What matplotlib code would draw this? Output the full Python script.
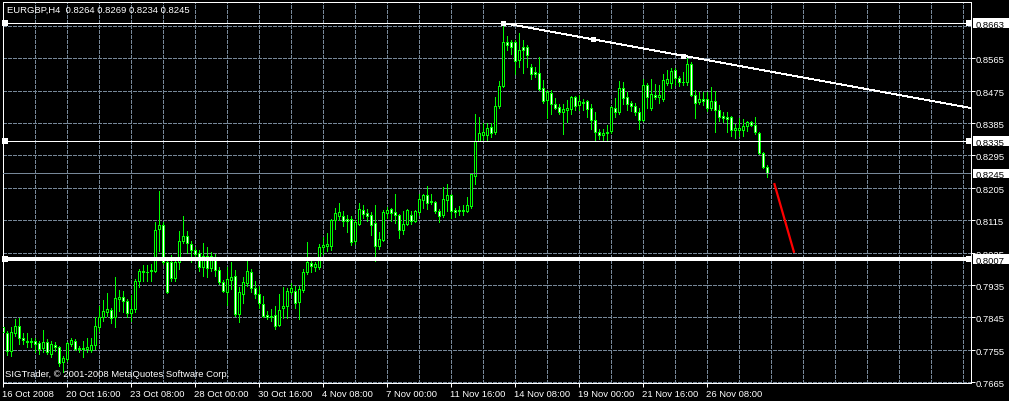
import matplotlib
matplotlib.use('Agg')
import matplotlib.pyplot as plt
import numpy as np
from matplotlib.patches import Rectangle
import matplotlib.transforms as mtransforms

# ---------------- data (EURGBP H4 candles) ----------------
opens = [.7817,.7800,.7752,.7802,.7822,.7787,.7778,.7776,.7780,.7773,
         .7759,.7776,.7743,.7769,.7763,.7720,.7730,.7772,.7780,.7757,
         .7759,.7756,.7755,.7769,.7819,.7847,.7860,.7865,.7845,.7897,
         .7900,.7889,.7858,.7867,.7947,.7973,.7970,.7973,.7974,.8089,
         .8101,.7998,.7998,.7953,.7998,.8058,.8070,.8048,.8031,.8025,
         .7984,.8014,.7981,.8011,.7977,.7942,.7916,.7949,.7959,.7854,
         .7910,.7940,.7972,.7925,.7909,.7881,.7851,.7846,.7851,.7823,
         .7870,.7875,.7916,.7918,.7888,.7921,.7972,.7996,.7986,.7986,
         .8041,.8044,.8044,.8115,.8127,.8127,.8118,.8118,.8058,.8104,
         .8143,.8135,.8130,.8106,.8044,.8061,.8135,.8146,.8137,.8129,
         .8088,.8104,.8129,.8112,.8138,.8172,.8185,.8166,.8166,.8139,
         .8129,.8172,.8185,.8143,.8139,.8143,.8141,.8155,.8239,.8335,
         .8353,.8353,.8374,.8360,.8431,.8487,.8610,.8610,.8610,.8559,
         .8596,.8596,.8542,.8527,.8524,.8482,.8448,.8468,.8437,.8429,
         .8416,.8420,.8425,.8457,.8434,.8443,.8446,.8427,.8392,.8360,
         .8351,.8358,.8362,.8428,.8415,.8482,.8457,.8440,.8433,.8415,
         .8394,.8491,.8428,.8464,.8456,.8453,.8495,.8496,.8532,.8509,
         .8498,.8500,.8549,.8463,.8444,.8452,.8452,.8428,.8446,.8421,
         .8405,.8401,.8401,.8366,.8366,.8366,.8376,.8387,.8379,.8357,
         .8303,.8264]
highs = [.7863,.7808,.7819,.7840,.7842,.7801,.7801,.7787,.7787,.7780,
         .7809,.7784,.7780,.7777,.7766,.7737,.7777,.7787,.7784,.7766,
         .7780,.7786,.7787,.7845,.7877,.7893,.7913,.7872,.7956,.7921,
         .7917,.7897,.7906,.7952,.7979,.7990,.7991,.7993,.8109,.8195,
         .8109,.8007,.8018,.8011,.8086,.8126,.8086,.8058,.8039,.8032,
         .8051,.8039,.8027,.8021,.7986,.7949,.7984,.7998,.7977,.7928,
         .7956,.8011,.7979,.7946,.7933,.7905,.7863,.7868,.7875,.7910,
         .7928,.7925,.7940,.7933,.7933,.7979,.8055,.8007,.7998,.8049,
         .8069,.8078,.8118,.8149,.8164,.8139,.8130,.8127,.8115,.8164,
         .8157,.8146,.8137,.8157,.8081,.8143,.8152,.8150,.8189,.8132,
         .8141,.8146,.8141,.8143,.8189,.8188,.8211,.8188,.8169,.8146,
         .8206,.8215,.8189,.8150,.8155,.8158,.8178,.8245,.8411,.8403,
         .8385,.8385,.8385,.8457,.8501,.8663,.8626,.8615,.8617,.8635,
         .8615,.8601,.8548,.8541,.8568,.8504,.8478,.8476,.8454,.8437,
         .8439,.8448,.8459,.8459,.8462,.8453,.8448,.8437,.8416,.8369,
         .8367,.8380,.8431,.8455,.8502,.8499,.8471,.8447,.8442,.8426,
         .8507,.8496,.8507,.8493,.8491,.8521,.8533,.8537,.8537,.8516,
         .8528,.8572,.8554,.8478,.8472,.8472,.8472,.8484,.8475,.8435,
         .8416,.8415,.8405,.8382,.8398,.8396,.8391,.8391,.8401,.8359,
         .8305,.8269]
lows = [.7780,.7741,.7738,.7794,.7770,.7770,.7761,.7761,.7747,.7743,
        .7747,.7743,.7735,.7752,.7710,.7692,.7724,.7766,.7754,.7747,
        .7735,.7747,.7747,.7757,.7808,.7835,.7849,.7828,.7817,.7863,
        .7859,.7847,.7834,.7859,.7928,.7947,.7947,.7947,.7970,.8030,
        .7993,.7912,.7947,.7947,.7979,.8051,.8025,.7998,.8007,.7974,
        .7961,.7956,.7974,.7961,.7937,.7914,.7879,.7923,.7849,.7833,
        .7885,.7933,.7914,.7899,.7872,.7845,.7840,.7835,.7812,.7821,
        .7842,.7842,.7910,.7872,.7840,.7916,.7965,.7972,.7974,.7979,
        .8021,.8028,.8032,.8090,.8115,.8100,.8081,.8047,.8049,.8101,
        .8121,.8113,.8075,.8000,.8035,.8058,.8121,.8113,.8106,.8065,
        .8076,.8102,.8104,.8110,.8130,.8150,.8146,.8160,.8136,.8111,
        .8123,.8141,.8121,.8125,.8130,.8130,.8137,.8150,.8216,.8335,
        .8339,.8339,.8346,.8355,.8428,.8485,.8589,.8578,.8522,.8542,
        .8524,.8541,.8508,.8513,.8476,.8440,.8400,.8411,.8425,.8411,
        .8355,.8388,.8411,.8420,.8420,.8422,.8402,.8369,.8339,.8341,
        .8337,.8339,.8357,.8403,.8411,.8437,.8422,.8419,.8407,.8368,
        .8391,.8428,.8422,.8453,.8442,.8447,.8491,.8481,.8491,.8489,
        .8491,.8491,.8461,.8398,.8438,.8435,.8419,.8421,.8361,.8391,
        .8389,.8359,.8348,.8342,.8348,.8348,.8364,.8376,.8354,.8299,
        .8259,.8234]
closes = [.7803,.7752,.7803,.7822,.7787,.7783,.7776,.7780,.7772,.7758,
          .7776,.7747,.7770,.7763,.7717,.7731,.7773,.7782,.7756,.7759,
          .7756,.7761,.7768,.7821,.7847,.7863,.7868,.7842,.7898,.7902,
          .7889,.7858,.7867,.7947,.7973,.7970,.7972,.7976,.8088,.8101,
          .7998,.7916,.7953,.7998,.8058,.8070,.8051,.8033,.8022,.7986,
          .8016,.7981,.8014,.7976,.7944,.7917,.7951,.7957,.7854,.7914,
          .7942,.7974,.7925,.7910,.7884,.7849,.7845,.7849,.7821,.7866,
          .7877,.7917,.7925,.7885,.7923,.7972,.7998,.7988,.7993,.8039,
          .8046,.8049,.8115,.8134,.8137,.8113,.8112,.8055,.8110,.8145,
          .8132,.8127,.8102,.8044,.8062,.8137,.8143,.8135,.8129,.8088,
          .8104,.8143,.8113,.8141,.8174,.8185,.8164,.8169,.8141,.8127,
          .8174,.8185,.8141,.8137,.8142,.8139,.8157,.8243,.8335,.8357,
          .8360,.8371,.8357,.8431,.8487,.8610,.8601,.8596,.8556,.8587,
          .8589,.8573,.8520,.8520,.8480,.8446,.8471,.8437,.8428,.8416,
          .8423,.8427,.8457,.8431,.8446,.8442,.8425,.8392,.8359,.8353,
          .8357,.8360,.8429,.8415,.8482,.8454,.8439,.8431,.8415,.8394,
          .8491,.8456,.8466,.8458,.8463,.8505,.8507,.8530,.8509,.8498,
          .8500,.8549,.8463,.8442,.8452,.8446,.8428,.8446,.8422,.8403,
          .8398,.8396,.8366,.8370,.8372,.8377,.8387,.8379,.8359,.8303,
          .8262,.8245]

date_tick_bars = [0, 16, 32, 48, 64, 80, 96, 112, 128, 144, 160, 176]
date_labels = ["16 Oct 2008", "20 Oct 16:00", "23 Oct 08:00", "28 Oct 00:00",
               "30 Oct 16:00", "4 Nov 08:00", "7 Nov 00:00", "11 Nov 16:00",
               "14 Nov 08:00", "19 Nov 00:00", "21 Nov 16:00", "26 Nov 08:00"]
grid_prices = [0.8655, 0.8565, 0.8475, 0.8385, 0.8295, 0.8205, 0.8115,
               0.8025, 0.7935, 0.7845, 0.7755, 0.7665]
label_prices = [0.8565, 0.8475, 0.8385, 0.8295, 0.8205, 0.8115,
                0.8025, 0.7935, 0.7845, 0.7755, 0.7665]
label_texts = ["0.8565", "0.8475", "0.8385", "0.8295", "0.8205",
               "0.8115", "0.8025", "0.7935", "0.7845", "0.7755", "0.7665"]
hlines_white = [0.8663, 0.8335, 0.8007]
hline_widths = [0.72, 0.72, 1.5]
bid_price = 0.8245
trend_bars = [125, 170]
trend_prices = [0.8663, 0.8572]
red_bars = [192.7, 197.7]
red_prices = [0.8218, 0.8024]
header = "EURGBP,H4  0.8264 0.8269 0.8234 0.8245"
footer = "SIGTrader, \u00a9 2001-2008 MetaQuotes Software Corp."

# ---------------- styling ----------------
LIME = '#00ff00'
GRID = '#778899'
FONT = 'Liberation Sans'
PX = 0.72  # one pixel in points at 100 dpi

W, H = 1009, 402
fig = plt.figure(figsize=(W / 100, H / 100), dpi=100, facecolor='black')
L_PX, R_PX, T_PX, B_PX = 2.5, 971.0, 2.5, 384.0
ax = fig.add_axes([L_PX / W, 1 - B_PX / H, (R_PX - L_PX) / W, (B_PX - T_PX) / H])
ax.set_facecolor('black')
ax.set_xlim(-0.2, 241.9)
ax.set_ylim(0.76622, 0.87228)

for s in ax.spines.values():
    s.set_color('white')
    s.set_linewidth(PX)

# grid
for k in range(8, 241, 8):
    ax.axvline(k, color=GRID, lw=PX, ls=(0, (3, 2)), zorder=1, antialiased=False)
for p in grid_prices:
    ax.axhline(p, color=GRID, lw=PX, ls=(0, (3, 2)), zorder=1, antialiased=False)

# candles
idx = np.arange(len(opens))
o = np.array(opens); c = np.array(closes); h = np.array(highs); l = np.array(lows)
ax.vlines(idx, l, h, color=LIME, lw=PX, zorder=2, antialiased=False)
fills = ['black' if cc > oo else 'white' for oo, cc in zip(o, c)]
ax.bar(idx, np.abs(c - o), bottom=np.minimum(o, c), width=0.5, color=fills,
       edgecolor=LIME, linewidth=PX, zorder=3, antialiased=False)

# horizontal lines
for p, lw in zip(hlines_white, hline_widths):
    ax.axhline(p, color='white', lw=lw, zorder=5, antialiased=False)
ax.axhline(bid_price, color=GRID, lw=PX, zorder=5, antialiased=False)

# trend line (ray to the right)
x_end = ax.get_xlim()[1]
slope = (trend_prices[1] - trend_prices[0]) / (trend_bars[1] - trend_bars[0])
ax.plot([trend_bars[0], x_end], [trend_prices[0], trend_prices[0] + slope * (x_end - trend_bars[0])],
        color='white', lw=0.6, zorder=5, antialiased=False)
mid_bar = (trend_bars[0] + trend_bars[1]) / 2
ax.plot([trend_bars[0], mid_bar, trend_bars[1]],
        [trend_prices[0], (trend_prices[0] + trend_prices[1]) / 2, trend_prices[1]],
        ls='none', marker='s', ms=3.6, color='white', mew=0, zorder=6)

# squares on horizontal lines
for p in hlines_white:
    ax.plot([0.5, 241.3], [p, p], ls='none', marker='s', ms=3.8, color='white',
            mew=0, zorder=6, clip_on=False)

# red line
ax.plot(red_bars, red_prices, color='red', lw=1.6, zorder=5, solid_capstyle='butt')

# axes ticks
ax.set_xticks(date_tick_bars)
ax.set_xticklabels([])
ax.tick_params(axis='x', direction='out', length=3, width=PX, color='white')
ax.set_yticks(label_prices)
ax.set_yticklabels([])
ax.tick_params(axis='y', left=False, right=True, direction='out', length=3,
               width=PX, color='white')

# date labels
xform = mtransforms.blended_transform_factory(ax.transData, fig.transFigure)
for b, lab in zip(date_tick_bars, date_labels):
    t = mtransforms.offset_copy(xform, fig=fig, x=-1.5, y=0, units='dots')
    ax.text(b, 1 - 396.7 / H, lab, transform=t, ha='left', va='baseline',
            color='white', fontsize=6.8, family=FONT, clip_on=False)

# price labels
yform = mtransforms.blended_transform_factory(fig.transFigure, ax.transData)
for p, lab in zip(label_prices, label_texts):
    t = mtransforms.offset_copy(yform, fig=fig, x=0, y=-4.0, units='dots')
    ax.text(976 / W, p, lab, transform=t, ha='left', va='baseline', color='white',
            fontsize=6.8, family=FONT, clip_on=False, zorder=7)

# boxed labels for lines
fig.canvas.draw()
for p in hlines_white + [bid_price]:
    ypx = ax.transData.transform((0, p))[1]
    rect = Rectangle((973, ypx - 4.8), 35.5, 9.6, transform=mtransforms.IdentityTransform(),
                     facecolor='white', edgecolor='none', zorder=8)
    fig.add_artist(rect)
    fig.text(990.5 / W, (ypx - 4.0) / H, f"{p:.4f}", ha='center', va='baseline',
             color='black', fontsize=6.8, family=FONT, zorder=9)

# header and footer
fig.text(7 / W, 1 - 13.3 / H, header, ha='left', va='baseline', color='white',
         fontsize=6.8, family=FONT)
fig.text(5 / W, 1 - 377 / H, footer, ha='left', va='baseline', color='white',
         fontsize=6.8, family=FONT)

fig.savefig('out.png', dpi=100, facecolor='black')
